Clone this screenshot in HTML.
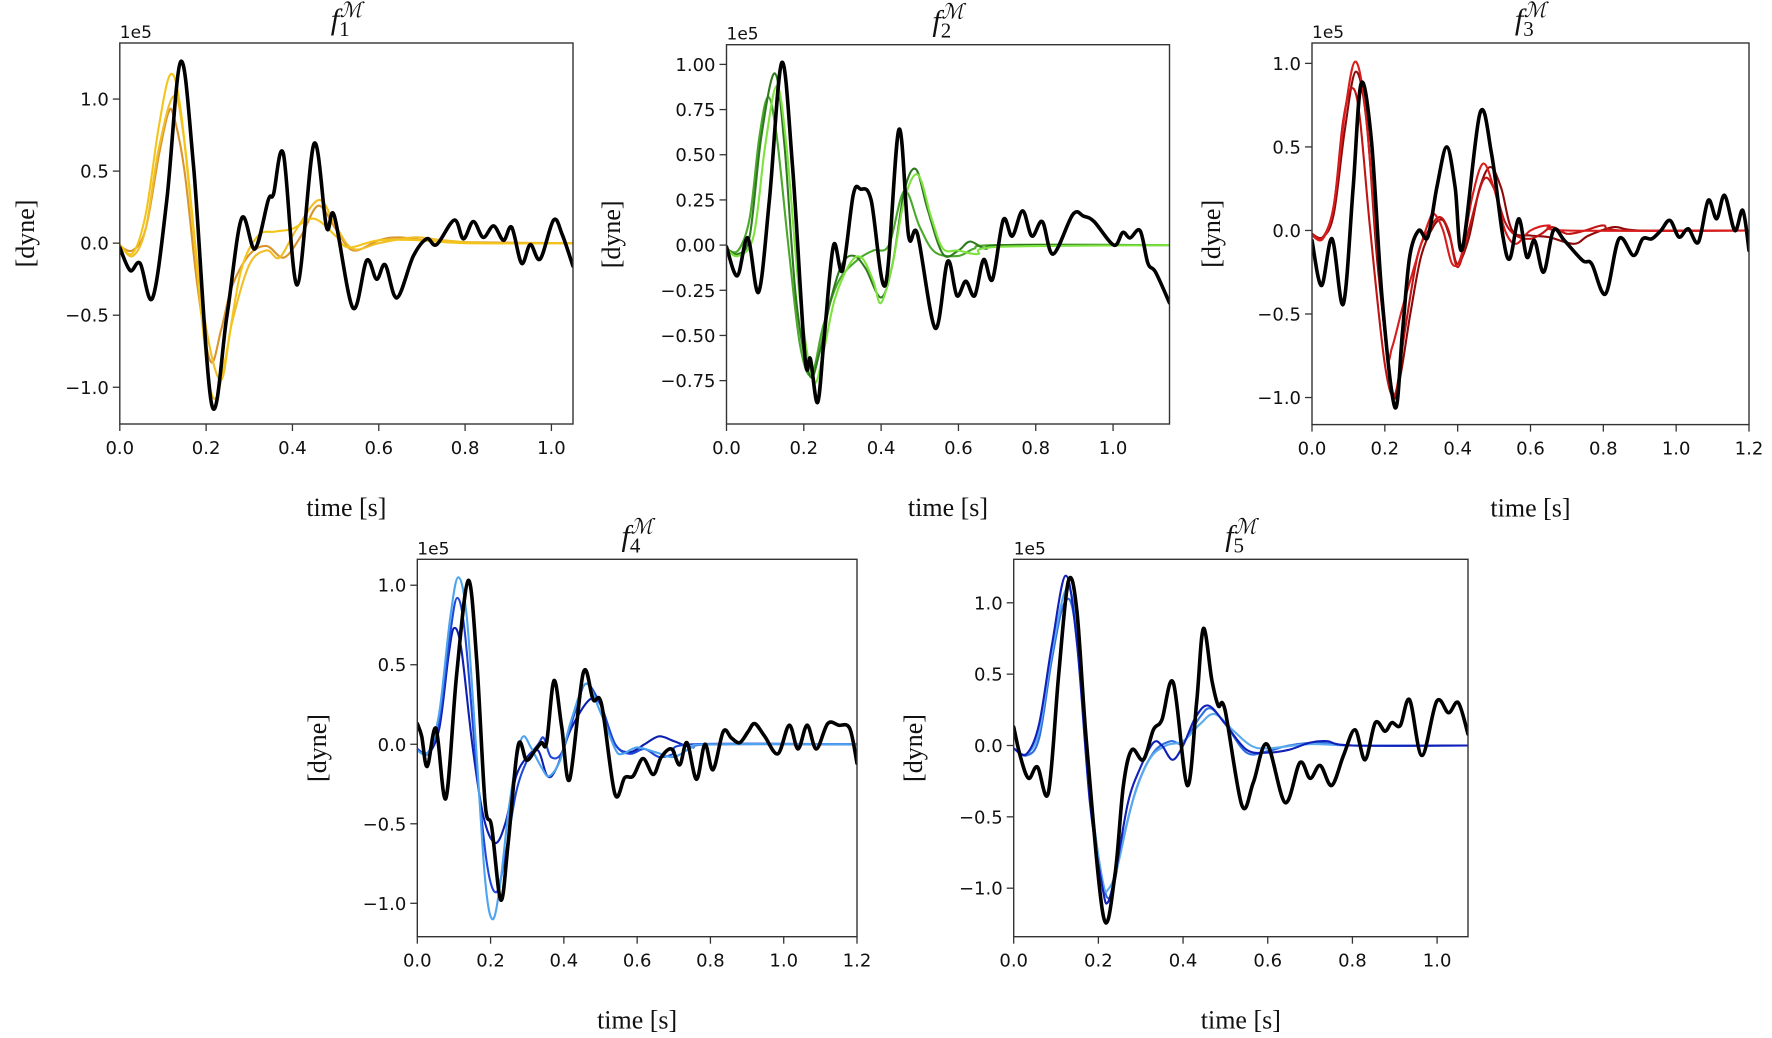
<!DOCTYPE html>
<html><head><meta charset="utf-8"><style>
html,body{margin:0;padding:0;background:#fff;}
svg{display:block;}
</style></head><body>
<svg id="fig" xmlns="http://www.w3.org/2000/svg" width="1772" height="1038" viewBox="0 0 1772 1038"></svg>
<script>
// ---- Panel 1 data (time s, force 1e5 dyne)
const p1Black=[[0,-0.03],[0.024,-0.19],[0.047,-0.14],[0.076,-0.38],[0.109,0.30],[0.141,1.26],[0.171,0.53],[0.213,-1.12],[0.248,-0.51],[0.282,0.17],[0.313,-0.04],[0.344,0.30],[0.356,0.34],[0.379,0.62],[0.411,-0.29],[0.450,0.69],[0.479,0.11],[0.497,0.19],[0.540,-0.45],[0.572,-0.12],[0.595,-0.25],[0.615,-0.15],[0.642,-0.38],[0.680,-0.09],[0.711,0.03],[0.734,-0.01],[0.775,0.16],[0.796,0.03],[0.819,0.15],[0.842,0.04],[0.866,0.12],[0.889,0.02],[0.908,0.11],[0.931,-0.14],[0.951,-0.01],[0.974,-0.11],[1.005,0.16],[1.025,0.06],[1.05,-0.16]];
const p1A=[[0,-0.01],[0.03,-0.07],[0.06,0.2],[0.09,0.8],[0.117,1.17],[0.14,0.95],[0.17,0.1],[0.2,-0.8],[0.22,-1.08],[0.245,-0.8],[0.28,-0.2],[0.32,0.05],[0.36,0.08],[0.40,0.1],[0.45,0.17],[0.5,0.05],[0.53,-0.03],[0.6,0.02],[0.7,0.02],[0.8,0.0],[1.05,0]];
const p1B=[[0,-0.02],[0.03,-0.05],[0.06,0.1],[0.09,0.6],[0.112,0.9],[0.125,0.88],[0.15,0.5],[0.18,-0.3],[0.21,-0.82],[0.235,-0.6],[0.26,-0.3],[0.3,-0.08],[0.34,-0.02],[0.38,-0.1],[0.42,0.05],[0.46,0.26],[0.5,0.1],[0.54,-0.05],[0.6,0.02],[0.65,0.04],[0.75,0.01],[1.05,0]];
const p1C=[[0,-0.01],[0.03,-0.09],[0.06,0.1],[0.09,0.65],[0.125,1.02],[0.15,0.7],[0.19,-0.4],[0.232,-0.95],[0.26,-0.55],[0.3,-0.15],[0.34,-0.05],[0.37,-0.1],[0.41,0.1],[0.462,0.3],[0.5,0.12],[0.54,-0.04],[0.6,0.0],[0.68,0.04],[0.75,0.02],[0.85,0.0],[1.05,0]];
// ---- Panel 2
const p2Black=[[0,-0.01],[0.028,-0.17],[0.055,0.04],[0.083,-0.26],[0.111,0.25],[0.143,1.01],[0.171,0.43],[0.203,-0.62],[0.217,-0.63],[0.236,-0.87],[0.254,-0.48],[0.277,0.0],[0.3,-0.14],[0.328,0.28],[0.347,0.31],[0.374,0.25],[0.411,-0.22],[0.446,0.64],[0.471,0.05],[0.494,0.06],[0.54,-0.46],[0.572,-0.09],[0.596,-0.28],[0.619,-0.2],[0.642,-0.28],[0.665,-0.08],[0.688,-0.19],[0.716,0.14],[0.739,0.05],[0.766,0.19],[0.79,0.05],[0.817,0.13],[0.845,-0.05],[0.896,0.17],[0.924,0.16],[0.951,0.13],[1.002,0.0],[1.025,0.07],[1.044,0.04],[1.07,0.08],[1.09,-0.1],[1.11,-0.15],[1.146,-0.32]];
const p2A=[[0,-0.02],[0.03,-0.05],[0.06,0.05],[0.09,0.6],[0.125,0.95],[0.15,0.55],[0.18,-0.3],[0.215,-0.72],[0.24,-0.6],[0.27,-0.3],[0.3,-0.1],[0.33,-0.06],[0.36,-0.13],[0.40,-0.29],[0.43,-0.1],[0.46,0.3],[0.49,0.42],[0.52,0.2],[0.56,-0.05],[0.6,-0.03],[0.63,0.02],[0.67,-0.02],[0.72,0.0],[1.146,0]];
const p2B=[[0,-0.02],[0.03,-0.03],[0.06,0.15],[0.085,0.6],[0.108,0.82],[0.13,0.6],[0.16,0.0],[0.19,-0.55],[0.22,-0.72],[0.25,-0.45],[0.29,-0.2],[0.34,-0.08],[0.38,-0.03],[0.42,0.0],[0.46,0.3],[0.5,0.1],[0.54,-0.04],[0.6,-0.06],[0.64,-0.02],[0.7,0.0],[1.146,0]];
const p2C=[[0,-0.02],[0.03,-0.06],[0.07,0.05],[0.1,0.55],[0.13,0.88],[0.155,0.55],[0.19,-0.3],[0.225,-0.75],[0.25,-0.6],[0.28,-0.3],[0.32,-0.1],[0.35,-0.07],[0.38,-0.2],[0.4,-0.32],[0.43,-0.1],[0.46,0.25],[0.495,0.39],[0.53,0.15],[0.56,-0.02],[0.6,-0.03],[0.65,-0.05],[0.7,-0.01],[1.146,0]];
// ---- Panel 3
const p3Black=[[0,-0.06],[0.026,-0.33],[0.055,-0.05],[0.086,-0.44],[0.113,0.26],[0.135,0.88],[0.163,0.54],[0.193,-0.42],[0.228,-1.06],[0.248,-0.62],[0.268,-0.16],[0.293,0.0],[0.318,-0.04],[0.343,0.26],[0.37,0.5],[0.393,0.26],[0.413,-0.11],[0.461,0.7],[0.493,0.46],[0.523,-0.02],[0.543,-0.17],[0.568,0.07],[0.59,-0.16],[0.611,-0.06],[0.636,-0.25],[0.663,0.0],[0.693,-0.06],[0.743,-0.18],[0.768,-0.2],[0.806,-0.38],[0.843,-0.05],[0.883,-0.15],[0.908,-0.05],[0.933,-0.05],[0.958,0.0],[0.983,0.06],[1.008,-0.04],[1.033,0.01],[1.061,-0.07],[1.088,0.18],[1.111,0.07],[1.133,0.21],[1.161,0.0],[1.183,0.12],[1.2,-0.12]];
const p3A=[[0,-0.03],[0.03,-0.05],[0.06,0.15],[0.09,0.7],[0.118,1.01],[0.145,0.75],[0.175,0.0],[0.205,-0.72],[0.22,-0.7],[0.25,-0.45],[0.29,-0.15],[0.32,0.05],[0.335,0.1],[0.36,0.0],[0.385,-0.2],[0.41,-0.15],[0.44,0.2],[0.47,0.4],[0.5,0.25],[0.53,0.0],[0.56,-0.08],[0.6,0.0],[0.65,0.03],[0.7,0.0],[1.2,0]];
const p3B=[[0,-0.02],[0.03,-0.04],[0.06,0.1],[0.09,0.6],[0.12,0.95],[0.15,0.65],[0.18,-0.2],[0.22,-0.95],[0.24,-0.9],[0.27,-0.5],[0.3,-0.15],[0.335,0.03],[0.36,0.06],[0.38,-0.05],[0.4,-0.2],[0.43,-0.05],[0.46,0.25],[0.49,0.38],[0.52,0.25],[0.55,0.0],[0.6,-0.03],[0.65,-0.04],[0.72,-0.08],[0.76,-0.03],[0.83,0.02],[0.9,0.0],[1.2,0]];
const p3C=[[0,-0.02],[0.03,-0.04],[0.06,0.15],[0.085,0.65],[0.108,0.85],[0.13,0.7],[0.16,0.0],[0.2,-0.8],[0.228,-0.98],[0.255,-0.6],[0.29,-0.15],[0.32,0.0],[0.35,0.08],[0.375,0.0],[0.4,-0.22],[0.43,0.0],[0.47,0.3],[0.5,0.25],[0.53,0.05],[0.56,-0.03],[0.6,-0.05],[0.63,-0.02],[0.66,0.02],[0.7,-0.02],[0.75,0.0],[0.8,0.03],[0.85,0.0],[1.2,0]];
// ---- Panel 4
const p4Black=[[0,0.13],[0.012,0.05],[0.027,-0.14],[0.051,0.1],[0.078,-0.34],[0.107,0.43],[0.139,1.03],[0.162,0.53],[0.185,-0.37],[0.203,-0.52],[0.228,-0.98],[0.248,-0.62],[0.275,-0.01],[0.298,-0.1],[0.321,-0.04],[0.339,0.01],[0.353,0.01],[0.373,0.4],[0.394,0.11],[0.416,-0.22],[0.453,0.45],[0.48,0.28],[0.503,0.25],[0.539,-0.31],[0.566,-0.21],[0.589,-0.2],[0.616,-0.09],[0.644,-0.19],[0.666,-0.08],[0.694,-0.03],[0.716,-0.13],[0.736,0.01],[0.762,-0.22],[0.785,0.0],[0.807,-0.16],[0.835,0.08],[0.857,0.04],[0.88,0.01],[0.903,0.08],[0.921,0.13],[0.948,0.05],[0.984,-0.06],[1.015,0.12],[1.039,-0.03],[1.064,0.12],[1.089,-0.03],[1.12,0.13],[1.15,0.12],[1.18,0.1],[1.2,-0.12]];
const p4A=[[0,-0.04],[0.03,-0.05],[0.06,0.2],[0.09,0.8],[0.112,1.05],[0.135,0.8],[0.16,0.0],[0.185,-0.85],[0.205,-1.1],[0.225,-0.9],[0.25,-0.4],[0.275,-0.05],[0.29,0.05],[0.31,-0.02],[0.34,-0.15],[0.36,-0.2],[0.39,-0.1],[0.42,0.15],[0.46,0.38],[0.5,0.2],[0.54,-0.03],[0.56,-0.06],[0.6,-0.02],[0.65,-0.05],[0.7,-0.08],[0.75,-0.02],[0.8,0.0],[1.2,0]];
const p4B=[[0,-0.03],[0.03,-0.05],[0.06,0.15],[0.09,0.7],[0.109,0.92],[0.13,0.7],[0.16,-0.1],[0.19,-0.75],[0.216,-0.93],[0.24,-0.7],[0.27,-0.3],[0.3,-0.1],[0.33,0.0],[0.345,0.04],[0.365,-0.08],[0.395,-0.05],[0.43,0.2],[0.46,0.38],[0.5,0.25],[0.54,0.0],[0.58,-0.06],[0.62,-0.03],[0.66,-0.08],[0.7,-0.06],[0.75,0.0],[1.2,0]];
const p4C=[[0,-0.03],[0.03,-0.06],[0.06,0.1],[0.085,0.55],[0.1,0.73],[0.12,0.6],[0.15,0.0],[0.18,-0.45],[0.212,-0.62],[0.24,-0.5],[0.27,-0.2],[0.3,-0.08],[0.33,-0.04],[0.355,-0.2],[0.38,-0.15],[0.42,0.1],[0.47,0.28],[0.5,0.25],[0.54,0.0],[0.58,-0.05],[0.62,0.0],[0.66,0.05],[0.7,0.02],[0.75,-0.02],[0.8,0.0],[1.2,0]];
// ---- Panel 5
const p5Black=[[0,0.13],[0.015,-0.07],[0.035,-0.23],[0.056,-0.15],[0.082,-0.33],[0.106,0.49],[0.129,1.15],[0.149,0.95],[0.172,0.02],[0.212,-1.2],[0.239,-0.91],[0.259,-0.28],[0.279,-0.03],[0.306,-0.1],[0.33,0.11],[0.35,0.18],[0.377,0.44],[0.41,-0.28],[0.432,0.3],[0.448,0.82],[0.468,0.46],[0.483,0.28],[0.499,0.25],[0.539,-0.42],[0.566,-0.26],[0.598,0.01],[0.641,-0.4],[0.676,-0.12],[0.7,-0.23],[0.724,-0.14],[0.751,-0.28],[0.779,-0.07],[0.806,0.11],[0.83,-0.1],[0.854,0.16],[0.877,0.1],[0.893,0.16],[0.913,0.14],[0.935,0.32],[0.964,-0.07],[0.999,0.31],[1.027,0.23],[1.05,0.3],[1.073,0.08]];
const p5A=[[0,-0.02],[0.03,-0.06],[0.06,0.15],[0.09,0.7],[0.123,1.19],[0.15,0.7],[0.18,-0.4],[0.21,-1.0],[0.222,-1.1],[0.24,-0.9],[0.27,-0.4],[0.3,-0.15],[0.33,0.02],[0.35,0.0],[0.375,-0.1],[0.4,0.0],[0.43,0.2],[0.46,0.28],[0.5,0.15],[0.55,-0.03],[0.6,-0.05],[0.65,-0.03],[0.7,0.02],[0.74,0.03],[0.8,0.0],[1.073,0]];
const p5B=[[0,-0.02],[0.03,-0.06],[0.06,0.1],[0.09,0.65],[0.125,1.1],[0.15,0.8],[0.18,-0.3],[0.21,-0.95],[0.225,-1.0],[0.245,-0.85],[0.28,-0.4],[0.32,-0.1],[0.36,0.0],[0.4,0.03],[0.44,0.15],[0.475,0.22],[0.52,0.1],[0.56,0.0],[0.6,-0.02],[0.7,0.01],[0.8,0.0],[1.073,0]];
const p5C=[[0,-0.02],[0.03,-0.07],[0.06,0.05],[0.09,0.6],[0.12,1.0],[0.145,0.85],[0.18,-0.3],[0.21,-0.95],[0.23,-1.05],[0.255,-0.7],[0.29,-0.3],[0.33,-0.05],[0.37,0.03],[0.4,0.02],[0.44,0.2],[0.465,0.26],[0.5,0.15],[0.55,-0.05],[0.6,-0.04],[0.65,0.0],[0.72,0.02],[0.8,0.0],[1.073,0]];
// ---- tick labels
const xTicks12=["0.0","0.2","0.4","0.6","0.8","1.0","1.2"];
const yTicksA=["−1.0","−0.5","0.0","0.5","1.0"];
const yTicksB=["−0.75","−0.50","−0.25","0.00","0.25","0.50","0.75","1.00"];

const NS="http://www.w3.org/2000/svg";
const svg=document.getElementById('fig');
function mk(tag,attrs,parent){const e=document.createElementNS(NS,tag);for(const k in attrs)e.setAttribute(k,attrs[k]);(parent||svg).appendChild(e);return e;}

const panels=[
 {id:1,L:119.8,R:573,T:43,B:424,xmax:1.05,ymin:-1.255,ymax:1.389,xt:xTicks12,yt:yTicksA,ylx:25,series:[[p1B,'#d9952c'],[p1C,'#f0be28'],[p1A,'#f3c51a'],[p1Black,'#000']]},
 {id:2,L:726.5,R:1169.5,T:44.7,B:424,xmax:1.146,ymin:-0.99,ymax:1.109,xt:xTicks12,yt:yTicksB,ylx:611,series:[[p2B,'#4aa82a'],[p2A,'#2f7a1f'],[p2C,'#7ee23f'],[p2Black,'#000']]},
 {id:3,L:1312,R:1749,T:43,B:424.6,xmax:1.2,ymin:-1.162,ymax:1.122,xt:xTicks12,yt:yTicksA,ylx:1211,series:[[p3B,'#8e0a0a'],[p3C,'#c01515'],[p3A,'#d91c1c'],[p3Black,'#000']]},
 {id:4,L:417.3,R:857,T:559.3,B:936.7,xmax:1.2,ymin:-1.21,ymax:1.163,xt:xTicks12,yt:yTicksA,ylx:317,series:[[p4C,'#0d1fb0'],[p4B,'#1f48d8'],[p4A,'#4ea3ee'],[p4Black,'#000']]},
 {id:5,L:1013.7,R:1468,T:559.3,B:936.7,xmax:1.073,ymin:-1.34,ymax:1.305,xt:xTicks12,yt:yTicksA,ylx:913,series:[[p5C,'#2f6fe0'],[p5B,'#5aaaf0'],[p5A,'#1020b8'],[p5Black,'#000']]}
];

function smoothPath(pts){
  let d='M'+pts[0][0].toFixed(1)+','+pts[0][1].toFixed(1);
  for(let i=0;i<pts.length-1;i++){
    const p0=pts[Math.max(0,i-1)],p1=pts[i],p2=pts[i+1],p3=pts[Math.min(pts.length-1,i+2)];
    const c1x=p1[0]+(p2[0]-p0[0])/6,c1y=p1[1]+(p2[1]-p0[1])/6;
    const c2x=p2[0]-(p3[0]-p1[0])/6,c2y=p2[1]-(p3[1]-p1[1])/6;
    d+=' C'+c1x.toFixed(1)+','+c1y.toFixed(1)+' '+c2x.toFixed(1)+','+c2y.toFixed(1)+' '+p2[0].toFixed(1)+','+p2[1].toFixed(1);
  }
  return d;
}

panels.forEach(p=>{
  const g=mk('g',{});
  
  
  const xs=t=>p.L+(t/p.xmax)*(p.R-p.L);
  const ys=v=>p.B-(v-p.ymin)/(p.ymax-p.ymin)*(p.B-p.T);
  const clipId='clip'+p.id;
  const cp=mk('clipPath',{id:clipId},g);
  mk('rect',{x:p.L,y:p.T,width:p.R-p.L,height:p.B-p.T},cp);
  const lines=mk('g',{'clip-path':'url(#'+clipId+')'},g);
  p.series.forEach((s,i)=>{
    const pts=s[0].map(q=>[xs(q[0]),ys(q[1])]);
    const black=s[1]==='#000';
    const path=mk('path',{d:smoothPath(pts),fill:'none',stroke:s[1],'stroke-width':black?3.6:2.1,'stroke-linejoin':'round','stroke-linecap':'round'},lines);
    
    
  });
  const frame=mk('rect',{x:p.L,y:p.T,width:p.R-p.L,height:p.B-p.T,fill:'none',stroke:'#333','stroke-width':1.4},g);
  
  
  p.xt.forEach(lbl=>{
    const t=parseFloat(lbl);
    if(t>p.xmax+1e-6)return;
    const x=xs(t);
    mk('line',{x1:x,y1:p.B,x2:x,y2:p.B+7,stroke:'#333','stroke-width':1.3},g);
    const tx=mk('text',{x:x,y:p.B+30,'text-anchor':'middle','font-family':'DejaVu Sans, sans-serif','font-size':18,fill:'#111'},g);
    tx.textContent=lbl;
    
    
  });
  p.yt.forEach(lbl=>{
    const v=parseFloat(lbl.replace('−','-'));
    const y=ys(v);
    mk('line',{x1:p.L-7,y1:y,x2:p.L,y2:y,stroke:'#333','stroke-width':1.3},g);
    const tx=mk('text',{x:p.L-11,y:y+6.5,'text-anchor':'end','font-family':'DejaVu Sans, sans-serif','font-size':18,fill:'#111'},g);
    tx.textContent=lbl;
    
    
  });
  const off=mk('text',{x:p.L,y:p.T-5,'font-family':'DejaVu Sans, sans-serif','font-size':17,fill:'#111'},g);
  off.textContent='1e5';
  
  
  const cx=(p.L+p.R)/2;
  const title=mk('text',{x:cx,y:p.T-14,'text-anchor':'middle','font-family':'Liberation Serif, serif','font-size':30,fill:'#111'},g);
  title.innerHTML='<tspan font-style="italic">f</tspan><tspan font-size="21" dy="7">'+p.id+'</tspan><tspan font-size="21" dy="-19" dx="-10" font-style="italic">ℳ</tspan>';
  
  
  const xl=mk('text',{x:cx,y:p.B+92,'text-anchor':'middle','font-family':'Liberation Serif, serif','font-size':26,fill:'#111'},g);
  xl.textContent='time [s]';
  
  
  const cy=(p.T+p.B)/2;
  const yl=mk('text',{x:p.ylx,y:cy,'text-anchor':'middle','font-family':'Liberation Serif, serif','font-size':26,fill:'#111',transform:'rotate(-90 '+(p.ylx)+' '+cy+') translate(0 9)'},g);
  yl.textContent='[dyne]';
  
  
});
</script>
</body></html>
